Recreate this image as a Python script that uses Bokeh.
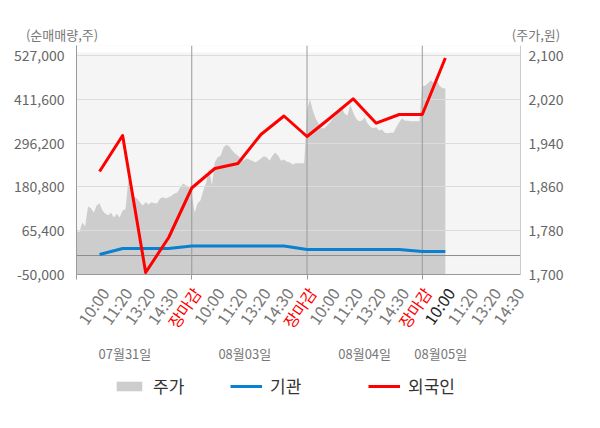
import numpy as np
from bokeh.plotting import figure
from bokeh.layouts import column
from bokeh.models import (Range1d, LinearAxis, FixedTicker, NumeralTickFormatter, Span,
                          BoxAnnotation, ColumnDataSource, LabelSet, Label, Legend, LegendItem)
from bokeh.embed import file_html
from bokeh.resources import INLINE
from bokeh.core.properties import value, field

FONT = "Noto Sans CJK KR"

# ---- data ----
tick_labels = ["10:00", "11:20", "13:20", "14:30", "장마감"] * 3 + ["10:00", "11:20", "13:20", "14:30"]
tick_pos = list(range(1, 20))
current_tick = 15  # today's 10:00 label (black)
dates = ["07월31일", "08월03일", "08월04일", "08월05일"]
date_pos = [2.1, 7.3, 12.5, 15.8]
day_ends = [5, 10, 15]

left_ticks = [-50000, 65400, 180800, 296200, 411600, 527000]
right_ticks = [1700, 1780, 1860, 1940, 2020, 2100]

# price (주가), 8 samples per label slot
price_d1 = [1780, 1777, 1795, 1788, 1824, 1821, 1813, 1826, 1830, 1817,
            1811, 1808, 1813, 1804, 1811, 1804, 1817, 1819, 1872, 1853,
            1842, 1839, 1832, 1826, 1832, 1828, 1832, 1830, 1830, 1839,
            1841, 1839, 1841, 1844, 1848, 1850, 1859, 1866, 1863, 1859]
price_d2 = [1848, 1813, 1830, 1835, 1853, 1868, 1894, 1863, 1905, 1914,
            1917, 1932, 1937, 1934, 1927, 1921, 1917, 1912, 1908, 1912,
            1910, 1908, 1905, 1908, 1912, 1916, 1914, 1908, 1917, 1923,
            1917, 1908, 1910, 1906, 1905, 1901, 1903, 1903, 1903, 1903]
price_d3 = [2000, 2020, 2000, 1985, 1976, 1967, 1967, 1972, 1978, 1985,
            1990, 2000, 2005, 1994, 1990, 2010, 1996, 1985, 1980, 1981,
            1987, 1976, 1970, 1967, 1969, 1963, 1965, 1959, 1958, 1959,
            1959, 1969, 1978, 1985, 1981, 1981, 1980, 1980, 1980, 1980]
price_d4 = [2045, 2045, 2050, 2055, 2050, 2055, 2045, 2040, 2040]
SAMPLES_PER_SLOT = 8

# net buying (순매매량)
flow_x = list(range(1, 17))
foreign = [221400, 316200, -44700, 47500, 177900, 229300, 242500, 318900,
           367600, 313600, 362300, 412900, 348600, 371600, 371600, 520400]
inst = [2700, 18500, 18500, 18500, 25100, 25100, 25100, 25100,
        25100, 15900, 15900, 15900, 15900, 15900, 10600, 10600]

# ---- layout constants (pixels) ----
W = 600
TOP_H = 45          # caption strip
FRAME_L, FRAME_W, FRAME_H = 76, 444, 229
AXIS_GAP = 10       # below main frame (x axis ticks)
BOT_H = 428 - TOP_H - FRAME_H - AXIS_GAP

Y_LO, Y_HI = -50000, 553350
P_LO, P_HI = 1700, 2118.3
X_LO, X_HI = 0, 19.26
ppx = (Y_HI - Y_LO) / FRAME_H
slot_px = FRAME_W / (X_HI - X_LO)

price = price_d1 + price_d2 + price_d3 + price_d4
price_x = np.arange(len(price)) / SAMPLES_PER_SLOT

RED, BLUE, AREA = "#ff0000", "#0a80d0", "#cdcdcd"
GRAY_TXT = "#777777"


def blank(fig):
    fig.grid.visible = False
    fig.outline_line_color = None


# ---- caption strip ----
pa = figure(width=W, height=TOP_H, x_range=Range1d(0, W), y_range=Range1d(0, TOP_H),
            x_axis_location=None, y_axis_location=None, toolbar_location=None, output_backend="svg",
            min_border_left=0, min_border_right=0, min_border_top=0, min_border_bottom=0,
            frame_align=False)
blank(pa)
pa.add_layout(Label(x=61.5, y=11, text="(순매매량,주)", text_align="center", text_baseline="middle",
                    text_font=FONT, text_font_size="13px", text_color=GRAY_TXT))
pa.add_layout(Label(x=535.5, y=11, text="(주가,원)", text_align="center", text_baseline="middle",
                    text_font=FONT, text_font_size="13px", text_color=GRAY_TXT))

# ---- main chart ----
p = figure(width=W, height=FRAME_H + AXIS_GAP, x_range=Range1d(X_LO, X_HI), y_range=Range1d(Y_LO, Y_HI),
           output_backend="svg", toolbar_location=None,
           min_border_left=FRAME_L, min_border_right=W - FRAME_L - FRAME_W,
           min_border_top=0, min_border_bottom=AXIS_GAP,
           background_fill_color="#f5f5f5", outline_line_color=None, frame_align=False)
p.extra_y_ranges = {"price": Range1d(P_LO, P_HI)}

p.xgrid.visible = False
p.ygrid.ticker = FixedTicker(ticks=left_ticks)
p.ygrid.grid_line_color = "#dcdcdc"

p.add_layout(BoxAnnotation(bottom=Y_LO + 222 * ppx, fill_color="white", fill_alpha=1.0,
                           line_color=None, level="underlay"))
p.add_layout(Span(location=0, dimension="width", line_color="#8c8c8c", line_width=1, level="underlay"))
for d in day_ends:
    p.add_layout(Span(location=d, dimension="height", line_color="#999999", line_width=1, level="underlay"))

area = p.varea(x=price_x, y1=P_LO, y2=price, y_range_name="price", fill_color=AREA, level="image")
p.line(flow_x, inst, line_color=BLUE, line_width=3, line_join="round")
p.line(flow_x, foreign, line_color=RED, line_width=3, line_join="round")

ya = p.yaxis[0]
ya.ticker = FixedTicker(ticks=left_ticks)
ya.formatter = NumeralTickFormatter(format="0,0")
ya.axis_line_color = "#999999"
ya.major_tick_line_color = None
ya.minor_tick_line_color = None
ya.major_tick_out = 0
ya.major_label_standoff = 12
ya.major_label_text_font = FONT
ya.major_label_text_font_size = "14px"
ya.major_label_text_color = "#666666"

ra = LinearAxis(y_range_name="price", ticker=FixedTicker(ticks=right_ticks),
                formatter=NumeralTickFormatter(format="0,0"))
ra.axis_line_color = "#cccccc"
ra.major_tick_line_color = None
ra.minor_tick_line_color = None
ra.major_tick_out = 0
ra.major_label_standoff = 8
ra.major_label_text_font = FONT
ra.major_label_text_font_size = "14px"
ra.major_label_text_color = "#666666"
p.add_layout(ra, "right")

xa = p.xaxis[0]
xa.ticker = FixedTicker(ticks=[0] + day_ends)
xa.axis_line_color = "#999999"
xa.major_tick_line_color = "#999999"
xa.major_tick_out = 5
xa.major_tick_in = 0
xa.minor_tick_line_color = None
xa.major_label_standoff = 0
xa.major_label_text_font_size = "1px"
xa.major_label_text_color = None

# ---- label strip below (same x scale as the main chart) ----
x0 = X_LO - FRAME_L / slot_px
x1 = X_LO + (W - FRAME_L) / slot_px
pc = figure(width=W, height=BOT_H, x_range=Range1d(x0, x1), y_range=Range1d(0, BOT_H),
            x_axis_location=None, y_axis_location=None, toolbar_location=None, output_backend="svg",
            min_border_left=0, min_border_right=0, min_border_top=0, min_border_bottom=0,
            frame_align=False)
blank(pc)

tcolors = [RED if t == "장마감" else GRAY_TXT for t in tick_labels]
tcolors[current_tick] = "#222222"
tsrc = ColumnDataSource(dict(x=tick_pos, y=[BOT_H - 5] * len(tick_pos), text=tick_labels, tcolor=tcolors))
pc.add_layout(LabelSet(x="x", y="y", text="text", source=tsrc, angle=55, angle_units="deg",
                       text_align="right", text_baseline="middle", x_offset=5,
                       text_color=field("tcolor"), text_font=value(FONT), text_font_size="16px"))

dsrc = ColumnDataSource(dict(x=date_pos, y=[75] * len(date_pos), text=dates))
pc.add_layout(LabelSet(x="x", y="y", text="text", source=dsrc, text_align="center", text_baseline="middle",
                       text_color=GRAY_TXT, text_font=value(FONT), text_font_size="13px"))

# legend swatches: hidden copies of the chart's renderers (same data & style)
sw_area = pc.varea(x=price_x, y1=P_LO, y2=price, fill_color=AREA, visible=False)
sw_blue = pc.line(flow_x, inst, line_color=BLUE, line_width=3, visible=False)
sw_red = pc.line(flow_x, foreign, line_color=RED, line_width=3, visible=False)
for lab, r, xo in [("주가", sw_area, 113), ("기관", sw_blue, 230), ("외국인", sw_red, 368)]:
    lg = Legend(items=[LegendItem(label=lab, renderers=[r])], location=(xo, 30),
                orientation="horizontal", border_line_color=None, background_fill_alpha=0,
                inactive_fill_alpha=0,
                padding=0, margin=0, spacing=0, glyph_width=32, glyph_height=12, label_standoff=8,
                label_height=24, label_text_font=FONT, label_text_font_size="17px",
                label_text_color="#333333")
    pc.add_layout(lg)

layout = column(pa, p, pc, spacing=0)
open("out.html", "w").write(file_html(layout, INLINE))
